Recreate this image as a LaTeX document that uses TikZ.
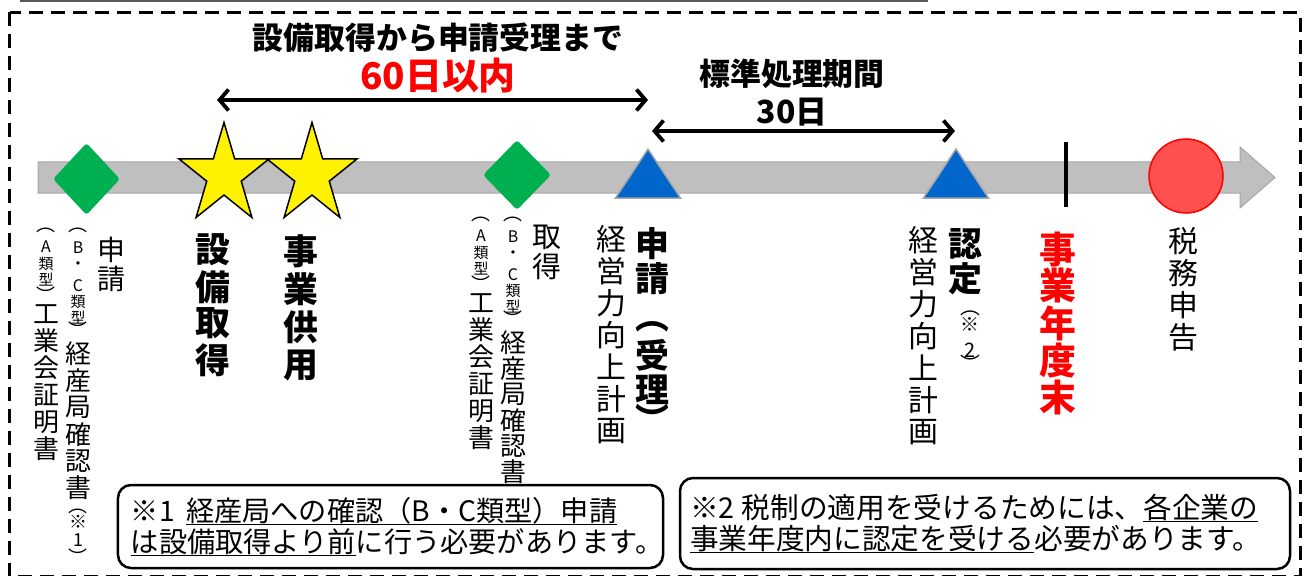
\documentclass[tikz,border=0pt]{standalone}
\usepackage{fontspec}
\setmainfont{Noto Sans CJK JP}
\usetikzlibrary{arrows.meta,shapes.geometric}
\definecolor{band}{HTML}{BFBFBF}
\definecolor{bandedge}{HTML}{A6A6A6}
\definecolor{grn}{HTML}{00B050}
\definecolor{blu}{HTML}{0066CC}
\definecolor{circfill}{HTML}{FF5050}
\definecolor{topline}{HTML}{595959}
\newcommand\vc[3]{\kern#2bp\vbox to0pt{\vss\hbox to0pt{\hss\fontsize{#1}{#1}\selectfont#3\hss}\vss}}
\newcommand\vcol[1]{\vbox{\offinterlineskip#1}}
\newsavebox\ulbox
\newcommand\uln[1]{\leavevmode\sbox\ulbox{#1}\rlap{\rule[-4pt]{\wd\ulbox}{1.5pt}}\usebox\ulbox}
\newcommand\starpts{(-90:1) -- (-54:.382) -- (-18:1) -- (18:.382) -- (54:1) -- (90:.382) -- (126:1) -- (162:.382) -- (198:1) -- (234:.382) -- cycle}
\tikzset{
  vtext/.style={anchor=north, inner sep=0pt, outer sep=0pt},
  gdiamond/.style={diamond, fill=grn, inner sep=0pt, rounded corners=3bp},
  ystar/.style={fill=yellow, draw=black, line width=1.5bp, line join=miter},
  btri/.style={fill=blu, draw=bandedge, line width=1.5bp, line join=miter},
  dbl/.style={line width=3.8bp, {Straight Barb[length=9bp,width=21bp]}-{Straight Barb[length=9bp,width=21bp]}},
  notebox/.style={draw, line width=2.5bp, rounded corners=13bp, align=left, inner ysep=0pt, fill=white},
  headtext/.style={inner sep=0pt},
}
\begin{document}
\begin{tikzpicture}[x=1bp, y=-1bp]
\useasboundingbox (0,0) rectangle (1306,576);
% frames
\draw[topline, line width=2bp] (20,1) -- (928,1);
\draw[line width=3bp, dash pattern=on 14bp off 8bp] (9.5,12.5) rectangle (1300,576);
% time band
\draw[fill=band, draw=bandedge, line width=1bp] (38,162) -- (1240,162) -- (1240,147) -- (1275,177.5) -- (1240,208) -- (1240,193) -- (38,193) -- cycle;
% markers
\node[gdiamond, minimum width=67bp, minimum height=72bp] (d1) at (86.5,179) {};
\node[gdiamond, minimum width=68bp, minimum height=70bp] (d2) at (517,175) {};
\draw[ystar, shift={(224,175)}, x=47.5bp, y=-52.5bp] \starpts;
\draw[ystar, shift={(312,175)}, x=47.5bp, y=-52.5bp] \starpts;
\filldraw[btri] (648,149) -- (680.5,198) -- (615.5,198) -- cycle;
\filldraw[btri] (956,149) -- (988.5,198) -- (923.5,198) -- cycle;
\draw[line width=4.5bp] (1066,142) -- (1066,207);
\node[circle, fill=circfill, draw=red, line width=1.5bp, minimum size=74bp, inner sep=0pt] (c1) at (1186,176) {};
% headings and spans
\node[headtext, font=\bfseries\fontsize{31}{31}\selectfont] (t1) at (438,38) {設備取得から申請受理まで};
\node[headtext, text=red, font=\bfseries\fontsize{37}{37}\selectfont] (t2) at (438,76) {60日以内};
\node[headtext, font=\bfseries\fontsize{31}{31}\selectfont] (t3) at (792,74) {標準処理期間};
\node[headtext, font=\bfseries\fontsize{32}{32}\selectfont] (t4) at (792,112) {30日};
\coordinate (p1) at (217,100); \coordinate (p2) at (648,100);
\coordinate (q1) at (652,131); \coordinate (q2) at (955,131);
\draw[dbl] (p1) -- (p2);
\draw[dbl] (q1) -- (q2);
% vertical labels
\node[vtext] (a1) at (111,249.5) {\vcol{\vc{28}{0}{申}\vc{28}{29}{請}}};
\node[vtext] (a2) at (78,230.5) {\vcol{\vc{19}{0}{︵}\vc{16}{17.5}{B}\vc{16}{18}{・}\vc{16}{20}{C}\vc{15}{16}{類}\vc{15}{16}{型}\vc{19}{12}{︶}\vc{26}{24}{経}\vc{26}{26.8}{産}\vc{26}{26.8}{局}\vc{26}{26.8}{確}\vc{26}{26.8}{認}\vc{26}{26.8}{書}\vc{19}{23.5}{︵}\vc{18}{10}{※}\vc{18}{18.5}{1}\vc{19}{16.5}{︶}}};
\node[vtext] (a3) at (46,230.5) {\vcol{\vc{19}{0}{︵}\vc{16}{16.5}{A}\vc{15}{16.5}{類}\vc{15}{16.5}{型}\vc{19}{15}{︶}\vc{26}{19}{工}\vc{26}{27}{業}\vc{26}{27}{会}\vc{26}{27}{証}\vc{26}{27}{明}\vc{26}{27}{書}}};
\node[vtext, font=\bfseries] (b1) at (213,250) {\vcol{\vc{35}{0}{設}\vc{35}{37}{備}\vc{35}{36.5}{取}\vc{35}{36.5}{得}}};
\node[vtext, font=\bfseries] (b2) at (301,251) {\vcol{\vc{35}{0}{事}\vc{35}{38}{業}\vc{35}{38}{供}\vc{35}{38}{用}}};
\node[vtext] (c1l) at (481,219.5) {\vcol{\vc{19}{0}{︵}\vc{16}{16.5}{A}\vc{15}{16.5}{類}\vc{15}{16.5}{型}\vc{19}{15}{︶}\vc{26}{19}{工}\vc{26}{27}{業}\vc{26}{27}{会}\vc{26}{27}{証}\vc{26}{27}{明}\vc{26}{27}{書}}};
\node[vtext] (c2l) at (513,219.5) {\vcol{\vc{19}{0}{︵}\vc{16}{17.5}{B}\vc{16}{18}{・}\vc{16}{20}{C}\vc{15}{16}{類}\vc{15}{16}{型}\vc{19}{12}{︶}\vc{26}{24}{経}\vc{26}{25.8}{産}\vc{26}{25.8}{局}\vc{26}{25.8}{確}\vc{26}{25.8}{認}\vc{26}{25.8}{書}}};
\node[vtext] (c3l) at (547,237.5) {\vcol{\vc{29}{0}{取}\vc{29}{29.5}{得}}};
\node[vtext] (d1l) at (611,239) {\vcol{\vc{30}{0}{経}\vc{30}{32}{営}\vc{30}{32}{力}\vc{30}{32}{向}\vc{30}{32}{上}\vc{30}{32}{計}\vc{30}{32}{画}}};
\node[vtext, font=\bfseries] (d2l) at (652,244) {\vcol{\vc{34}{0}{申}\vc{34}{34.5}{請}\vc{34}{48.5}{︵}\vc{34}{28}{受}\vc{34}{35}{理}\vc{34}{28}{︶}}};
\node[vtext] (e1l) at (923,240) {\vcol{\vc{30}{0}{経}\vc{30}{32}{営}\vc{30}{32}{力}\vc{30}{32}{向}\vc{30}{32}{上}\vc{30}{32}{計}\vc{30}{32}{画}}};
\node[vtext, font=\bfseries] (e2l) at (965,243.5) {\vcol{\vc{34}{0}{認}\vc{34}{35}{定}}};
\node[vtext] (e3l) at (970,313) {\vcol{\vc{20}{0}{︵}\vc{19}{11.5}{※}\vc{20}{25.5}{2}\vc{20}{13.5}{︶}}};
\node[vtext, font=\bfseries, text=red] (fl) at (1058,249.5) {\vcol{\vc{37}{0}{事}\vc{37}{36}{業}\vc{37}{38}{年}\vc{37}{37}{度}\vc{37}{37}{末}}};
\node[vtext] (gl) at (1183,241.5) {\vcol{\vc{30}{0}{税}\vc{30}{32}{務}\vc{30}{32}{申}\vc{30}{32}{告}}};
% notes
\node[notebox, minimum height=83bp, inner xsep=13bp, text width=519bp, font=\fontsize{28.3}{31}\selectfont] (n1) at (390.5,526.5) {※1\hspace{.4em}\uln{経産局への確認（B・C類型）申請}\\\uln{は設備取得より前}に行う必要があります。};
\node[notebox, minimum height=91bp, inner xsep=10bp, text width=590bp, font=\fontsize{28.8}{31}\selectfont] (n2) at (985,523.5) {※2\hspace{.25em}税制の適用を受けるためには、\uln{各企業の}\\\uln{事業年度内に認定を受ける}必要があります。};
\end{tikzpicture}
\end{document}
